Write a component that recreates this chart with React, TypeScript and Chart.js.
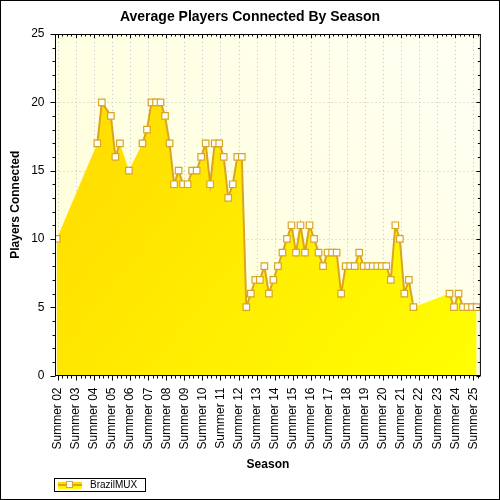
import React, { useEffect, useRef } from 'react';
import { Chart, registerables } from 'chart.js';

Chart.register(...registerables);

// Quarter index of each sample (0 = first sample, 4 quarters per season)
const quarterIndex = [
  0, 9, 10, 12, 13, 14, 16,
  19, 20, 21, 22, 23, 24, 25, 26, 27, 28, 29, 30, 31, 32, 33, 34, 35, 36, 37, 38, 39, 40, 41,
  42, 43, 44, 45, 46, 47, 48, 49, 50, 51, 52, 53, 54, 55, 56, 57, 58, 59, 60, 61, 62, 63, 64, 65,
  66, 67, 68, 69, 70, 71, 72, 73, 74, 75, 76, 77, 78, 79,
  87, 88, 89, 90, 91, 92, 93,
];

const playersConnected = [
  10, 17, 20, 19, 16, 17, 15,
  17, 18, 20, 20, 20, 19, 17, 14, 15, 14, 14, 15, 15, 16, 17, 14, 17, 17, 16, 13, 14, 16, 16,
  5, 6, 7, 7, 8, 6, 7, 8, 9, 10, 11, 9, 11, 9, 11, 10, 9, 8, 9, 9, 9, 6, 8, 8,
  8, 9, 8, 8, 8, 8, 8, 8, 7, 11, 10, 6, 7, 5,
  6, 5, 6, 5, 5, 5, 5,
];

// quarter indices after which the outline is interrupted (no data in between)
const lineBreaksAfter = [0, 14, 16, 79];

const seasonLabels = [
  'Summer 02', 'Summer 03', 'Summer 04', 'Summer 05', 'Summer 06', 'Summer 07',
  'Summer 08', 'Summer 09', 'Summer 10', 'Summer 11', 'Summer 12', 'Summer 13',
  'Summer 14', 'Summer 15', 'Summer 16', 'Summer 17', 'Summer 18', 'Summer 19',
  'Summer 20', 'Summer 21', 'Summer 22', 'Summer 23', 'Summer 24', 'Summer 25',
];

const yTickValues = [0, 5, 10, 15, 20, 25];

const SEASON_OFFSET = 0.28; // quarter position of the "Summer 02" tick
const X_MIN = -0.26;
const X_MAX = 93.84;

const FONT = "'Liberation Sans', Arial, sans-serif";
const GOLD = '#FFD700';
const LINE = '#DAA520';

const seasonTick = (i: number) => SEASON_OFFSET + 4 * i;

const framePlugin = {
  id: 'frame',
  beforeDraw(chart: any) {
    const { ctx, chartArea: a, scales } = chart;
    const x = scales.x;
    const y = scales.y;
    ctx.save();
    ctx.fillStyle = '#FFFFFF';
    ctx.fillRect(0, 0, chart.width, chart.height);
    const bg = ctx.createLinearGradient(a.left, a.bottom, a.right, a.top);
    bg.addColorStop(0, '#FFFFD6');
    bg.addColorStop(1, '#FFFFF4');
    ctx.fillStyle = bg;
    ctx.fillRect(a.left, a.top, a.right - a.left, a.bottom - a.top);
    ctx.strokeStyle = '#C4C4C4';
    ctx.lineWidth = 1;
    ctx.setLineDash([1, 3]);
    yTickValues.forEach((v) => {
      if (v === 0 || v === 25) return;
      const py = Math.round(y.getPixelForValue(v)) + 0.5;
      ctx.beginPath();
      ctx.moveTo(a.left, py);
      ctx.lineTo(a.right, py);
      ctx.stroke();
    });
    seasonLabels.forEach((_, i) => {
      const px = Math.round(x.getPixelForValue(seasonTick(i))) + 0.5;
      ctx.beginPath();
      ctx.moveTo(px, a.top);
      ctx.lineTo(px, a.bottom);
      ctx.stroke();
    });
    ctx.restore();
  },
  afterDraw(chart: any) {
    const { ctx, chartArea: a, scales } = chart;
    const x = scales.x;
    const y = scales.y;
    ctx.save();
    ctx.strokeStyle = '#000';
    ctx.lineWidth = 1;
    ctx.setLineDash([]);
    // chart frame
    ctx.strokeRect(a.left, Math.round(a.top) + 0.5, a.right - a.left, a.bottom - Math.round(a.top) - 0.5);
    // y ticks (left outward, right inward)
    for (let v = 0; v <= 25; v++) {
      const py = Math.round(y.getPixelForValue(v)) + 0.5;
      const major = v % 5 === 0;
      ctx.beginPath();
      ctx.moveTo(a.left - (major ? 5 : 3), py);
      ctx.lineTo(a.left, py);
      ctx.moveTo(a.right, py);
      ctx.lineTo(a.right - (major ? 4 : 2.5), py);
      ctx.stroke();
    }
    // x ticks (bottom outward, top inward)
    for (let n = 0; n <= 93; n++) {
      const q = SEASON_OFFSET + n;
      if (q > X_MAX) break;
      const px = Math.round(x.getPixelForValue(q)) + 0.5;
      const major = n % 4 === 0;
      ctx.beginPath();
      ctx.moveTo(px, a.bottom);
      ctx.lineTo(px, a.bottom + (major ? 5 : 3));
      ctx.moveTo(px, a.top);
      ctx.lineTo(px, a.top + (major ? 4 : 2.5));
      ctx.stroke();
    }
    // outer border
    ctx.strokeRect(0.5, 0.5, chart.width - 1, chart.height - 1);
    // title
    ctx.fillStyle = '#000';
    ctx.font = `bold 14px ${FONT}`;
    ctx.textAlign = 'center';
    ctx.textBaseline = 'middle';
    ctx.fillText('Average Players Connected By Season', 250, 17);
    // legend
    ctx.fillStyle = '#FFFFFF';
    ctx.fillRect(54.5, 478.5, 91, 13);
    ctx.strokeRect(54.5, 478.5, 91, 13);
    const lg = ctx.createLinearGradient(58, 482, 58, 489);
    lg.addColorStop(0, GOLD);
    lg.addColorStop(1, '#FFFF00');
    ctx.fillStyle = lg;
    ctx.fillRect(58, 482, 24, 7);
    ctx.strokeStyle = LINE;
    ctx.lineWidth = 2;
    ctx.beginPath();
    ctx.moveTo(58, 485);
    ctx.lineTo(82, 485);
    ctx.stroke();
    ctx.fillStyle = '#FFFFFF';
    ctx.lineWidth = 1;
    ctx.fillRect(66.5, 481.5, 6, 6);
    ctx.strokeRect(66.5, 481.5, 6, 6);
    ctx.fillStyle = '#000';
    ctx.font = `10px ${FONT}`;
    ctx.textAlign = 'left';
    ctx.fillText(chart.data.datasets[0].label, 90, 485.5);
    ctx.restore();
  },
};

export default function App() {
  const ref = useRef<HTMLCanvasElement>(null);
  useEffect(() => {
    document.body.style.margin = '0';
    const canvas = ref.current;
    if (!canvas) return;

    const lineData: { x: number; y: number | null }[] = [];
    quarterIndex.forEach((q, i) => {
      lineData.push({ x: q, y: playersConnected[i] });
      if (lineBreaksAfter.includes(q)) lineData.push({ x: q + 0.5, y: null });
    });
    const areaData = quarterIndex.map((q, i) => ({ x: q, y: playersConnected[i] }));

    const chart = new Chart(canvas, {
      type: 'line',
      data: {
        datasets: [
          {
            label: 'BrazilMUX',
            data: lineData as any,
            borderColor: LINE,
            borderWidth: 2,
            fill: false,
            spanGaps: false,
            tension: 0,
            pointStyle: 'rect',
            pointRadius: 4.6,
            pointBackgroundColor: '#FFFFFF',
            pointBorderColor: LINE,
            pointBorderWidth: 1.2,
            order: 1,
          },
          {
            label: 'area',
            data: areaData as any,
            borderWidth: 0,
            borderColor: 'rgba(0,0,0,0)',
            pointRadius: 0,
            fill: 'origin',
            tension: 0,
            backgroundColor: (c: any) => {
              const area = c.chart.chartArea;
              if (!area) return GOLD;
              const g = c.chart.ctx.createLinearGradient(area.left, area.top, area.right, area.bottom);
              g.addColorStop(0, GOLD);
              g.addColorStop(1, '#FFFF00');
              return g;
            },
            order: 2,
          },
        ],
      },
      options: {
        animation: false,
        responsive: false,
        events: [],
        layout: { padding: { top: 34, right: 15.5, bottom: 0, left: 0 } },
        plugins: {
          legend: { display: false },
          title: { display: false },
          tooltip: { enabled: false },
        },
        scales: {
          x: {
            type: 'linear',
            min: X_MIN,
            max: X_MAX,
            grid: { display: false, drawTicks: false },
            border: { display: false },
            afterBuildTicks: (scale: any) => {
              scale.ticks = seasonLabels.map((_, i) => ({ value: seasonTick(i) }));
            },
            afterFit: (scale: any) => {
              scale.height = 124.5;
            },
            ticks: {
              autoSkip: false,
              minRotation: 90,
              maxRotation: 90,
              padding: 12,
              color: '#000',
              font: { family: FONT, size: 12 },
              callback: (_v: any, i: number) => seasonLabels[i],
            },
            title: {
              display: true,
              text: 'Season',
              color: '#000',
              font: { family: FONT, size: 12, weight: 'bold' },
              padding: { top: 0, bottom: 28 },
            },
          },
          y: {
            min: 0,
            max: 25,
            grid: { display: false, drawTicks: false },
            border: { display: false },
            afterFit: (scale: any) => {
              scale.width = 55.5;
            },
            ticks: {
              stepSize: 5,
              padding: 11,
              color: '#000',
              font: { family: FONT, size: 12 },
            },
            title: {
              display: true,
              text: 'Players Connected',
              color: '#000',
              font: { family: FONT, size: 12, weight: 'bold' },
              padding: { top: 8, bottom: 0 },
            },
          },
        },
      },
      plugins: [framePlugin],
    });
    return () => chart.destroy();
  }, []);
  return (
    <div style={{ position: 'absolute', left: 0, top: 0, width: 500, height: 500 }}>
      <canvas ref={ref} width={500} height={500} style={{ display: 'block' }} />
    </div>
  );
}
